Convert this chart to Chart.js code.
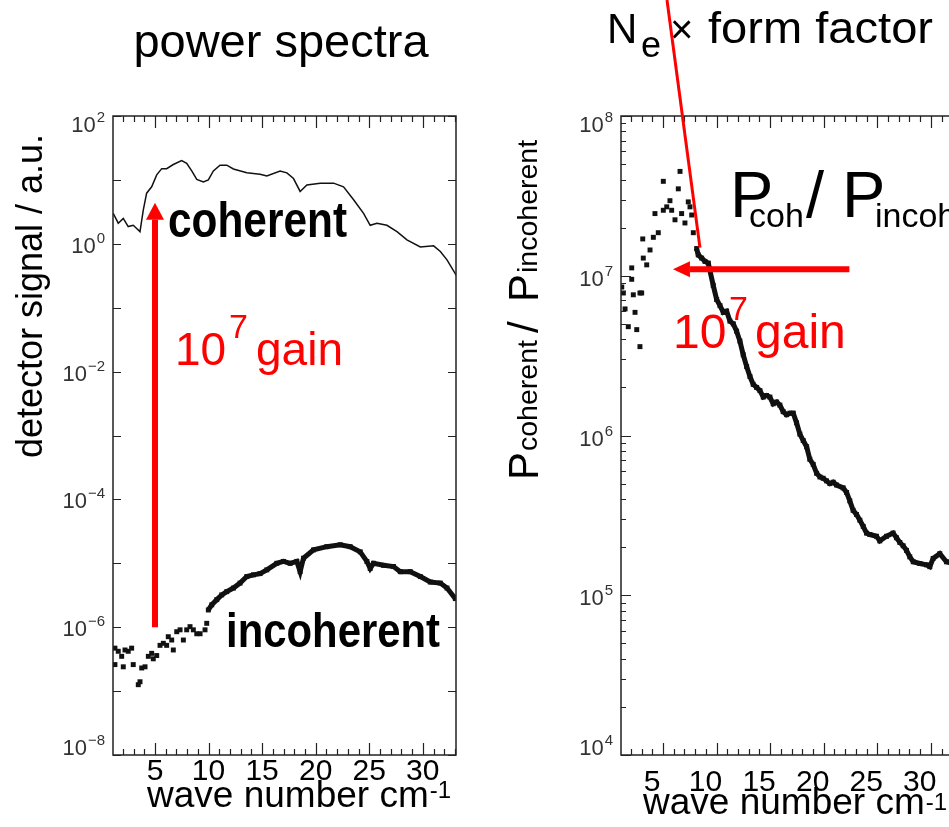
<!DOCTYPE html>
<html>
<head>
<meta charset="utf-8">
<script src="https://cdn.jsdelivr.net/npm/chart.js@4/dist/chart.umd.min.js"></script>
<style>
  html, body { margin: 0; padding: 0; background: #fff; overflow: hidden; }
  #wrap { position: relative; width: 949px; height: 827px; overflow: hidden; background: #fff; }
  canvas { position: absolute; left: 0; top: 0; }
</style>
</head>
<body>
<div id="wrap">
  <canvas id="spec" width="470" height="827"></canvas>
  <canvas id="ratio" width="980" height="827"></canvas>
</div>
<script>
const FONT = '"Liberation Sans", Arial, sans-serif'

// wave number axis (cm^-1)
const xMin = 1.08
const xMax = 33.1
const xTickValues = [5, 10, 15, 20, 25, 30]

// coherent power spectrum (thin trace)
const cohX = [1.1, 1.57, 2.04, 2.5, 2.97, 3.29, 3.6, 3.91, 4.22, 4.69, 5.16, 5.63, 6.09, 6.71, 7.49, 7.96, 8.43, 8.9, 9.52, 9.98,
  10.45, 11.07, 11.7, 12.32, 13.57, 14.81, 15.44, 16.68, 17.31, 17.93, 18.55, 19.18, 20.42, 21.67, 22.6, 23.54, 24.47, 25.09,
  25.72, 26.65, 27.59, 28.52, 29.77, 31.01, 31.64, 32.26, 33.13]
const cohY = [3.0, 2.1, 2.5, 1.86, 1.95, 1.74, 1.55, 3.4, 6.2, 7.8, 12, 15, 15, 17.4, 20, 18.2, 13.8, 10.2, 9.3, 10,
  13.8, 17, 17, 14.8, 12.9, 12.3, 11.5, 13.8, 12.9, 10.5, 6.6, 8.3, 8.9, 8.9, 7.8, 4.9, 3.0, 1.95,
  2.1, 1.95, 1.55, 1.15, 0.89, 0.93, 0.76, 0.56, 0.32]

// incoherent spectrum: scattered points below 10 cm-1
const incLowX = [1.26, 1.26, 1.57, 1.89, 2.04, 2.2, 2.5, 2.82, 2.97, 3.44, 3.6, 3.76, 4.07, 4.38, 4.69, 4.84, 5.16, 5.47,
  5.78, 6.09, 6.24, 6.56, 6.71, 7.03, 7.34, 7.65, 7.96, 8.27, 8.58, 8.9, 9.21, 9.67, 9.83]
const incLowY = [4.7e-7, 2.6e-7, 4.2e-7, 3.5e-7, 2.4e-7, 4.4e-7, 4.2e-7, 4.7e-7, 2.6e-7, 1.26e-7, 1.4e-7, 2.3e-7, 2.4e-7,
  3.5e-7, 3.9e-7, 3.2e-7, 3.6e-7, 5.2e-7, 5.6e-7, 5.2e-7, 7.1e-7, 6.3e-7, 4.4e-7, 8.5e-7, 9.1e-7, 6.3e-7, 9.1e-7,
  1.02e-6, 9.1e-7, 7.9e-7, 7.9e-7, 9.1e-7, 1.15e-6]
// incoherent spectrum: dense part
const incX = [9.98, 10.3, 10.77, 11.23, 11.7, 12.32, 12.94, 13.57, 14.19, 14.81, 15.44, 16.37, 16.99, 17.62, 18.24, 18.55,
  18.86, 19.8, 21.04, 22.29, 23.22, 24.16, 24.78, 25.09, 25.4, 26.34, 27.27, 27.9, 28.83, 29.77, 30.7, 31.64, 32.26, 33.04]
const incY = [1.86e-6, 2.24e-6, 2.7e-6, 3.2e-6, 3.6e-6, 4.1e-6, 4.9e-6, 6.2e-6, 6.6e-6, 6.9e-6, 7.9e-6, 1.0e-5, 1.07e-5,
  1.0e-5, 1.07e-5, 7.4e-6, 1.2e-5, 1.62e-5, 1.82e-5, 1.95e-5, 1.82e-5, 1.51e-5, 1.07e-5, 8.3e-6, 1.0e-5, 9.3e-6, 8.9e-6,
  7.4e-6, 7.4e-6, 6.2e-6, 5.1e-6, 4.9e-6, 4.1e-6, 2.8e-6]

// ratio P_coherent / P_incoherent
const ratioLowX = [1.15, 1.3, 1.46, 1.76, 2.08, 2.08, 2.23, 2.39, 2.55, 2.85, 2.85, 3.01, 3.11, 3.16, 3.48, 3.79, 4.1,
  4.25, 4.56, 5.03, 5.03, 5.35, 5.65, 5.81, 6.12, 6.43, 6.59, 6.74, 7.05, 7.36, 7.52, 7.68, 7.83]
const ratioLowY = [8.5e6, 7.8e6, 6.2e6, 4.8e6, 9.5e6, 1.12e7, 7.6e6, 5.9e6, 4.6e6, 7.8e6, 3.6e6, 7.8e6, 1.7e7, 1.29e7,
  1.17e7, 1.45e7, 1.74e7, 2.45e7, 1.86e7, 3.9e7, 2.57e7, 2.7e7, 2.95e7, 2.57e7, 2.24e7, 3.5e7, 4.5e7, 2.45e7, 2.14e7,
  2.9e7, 2.7e7, 2.4e7, 1.86e7]
const ratioX = [8.14, 8.29, 8.61, 8.92, 9.23, 9.69, 10.01, 10.32, 10.63, 10.94, 11.25, 11.56, 11.87, 12.18, 12.49, 12.81,
  13.12, 13.42, 13.74, 14.05, 14.36, 14.67, 14.98, 15.29, 15.61, 15.91, 16.22, 16.54, 16.85, 17.16, 17.47, 17.78, 18.09,
  18.41, 18.71, 19.02, 19.34, 19.65, 19.95, 20.27, 20.58, 20.89, 21.2, 21.82, 22.14, 22.44, 22.75, 23.07, 23.38, 23.69,
  24.0, 24.31, 24.93, 25.24, 25.87, 26.48, 26.8, 27.11, 27.42, 27.73, 28.04, 28.36, 28.97, 29.6, 29.91, 30.22, 30.84,
  31.46, 32.1, 32.8]
const ratioY = [1.48e7, 1.35e7, 1.29e7, 1.23e7, 1.2e7, 8.7e6, 7.1e6, 6.5e6, 5.9e6, 6.0e6, 5.2e6, 5.0e6, 4.5e6, 3.9e6,
  3.2e6, 2.7e6, 2.34e6, 2.09e6, 2.0e6, 1.91e6, 1.74e6, 1.78e6, 1.74e6, 1.58e6, 1.62e6, 1.55e6, 1.41e6, 1.35e6, 1.38e6,
  1.38e6, 1.2e6, 1.02e6, 9.3e5, 8.5e5, 7.1e5, 6.6e5, 5.8e5, 5.5e5, 5.4e5, 5.2e5, 5.0e5, 5.1e5, 4.9e5, 4.7e5, 4.4e5,
  3.9e5, 3.4e5, 3.2e5, 2.95e5, 2.7e5, 2.45e5, 2.4e5, 2.34e5, 2.19e5, 2.34e5, 2.45e5, 2.29e5, 2.14e5, 2.04e5, 1.91e5,
  1.74e5, 1.62e5, 1.58e5, 1.55e5, 1.51e5, 1.7e5, 1.82e5, 1.62e5, 1.58e5, 1.48e5]

// y decades: ticked, and labelled
const specDecades = [2, 1, 0, -1, -2, -3, -4, -5, -6, -7, -8]
const specLabels = [2, 0, -2, -4, -6, -8]
const ratioDecades = [8, 7, 6, 5, 4]
const ratioLabels = [8, 7, 6, 5, 4]

const pts = (xs, ys) => xs.map((x, i) => ({ x, y: ys[i] }))

const INK = '#111'
const RED = '#ff0000'

function txt(ctx, s, x, y, size, o = {}) {
  ctx.font = `${o.bold ? 'bold ' : ''}${size}px ${FONT}`
  ctx.fillStyle = o.color || '#000'
  ctx.textAlign = o.align || 'left'
  ctx.textBaseline = 'alphabetic'
  const w = ctx.measureText(s).width
  if (o.width) {
    ctx.save()
    ctx.translate(x, y)
    ctx.scale(o.width / w, 1)
    ctx.fillText(s, 0, 0)
    ctx.restore()
    return o.width
  }
  ctx.fillText(s, x, y)
  return w
}

function sup(e) { return String(e).replace('-', '\u2212') }

// box, inward ticks and tick labels
function drawAxes(chart, cfg) {
  const { ctx, chartArea: a, scales: { x, y } } = chart
  ctx.save()
  ctx.strokeStyle = '#222'
  ctx.lineWidth = 1.5
  ctx.strokeRect(a.left, a.top, a.right - a.left, a.bottom - a.top)

  ctx.lineWidth = 1.2
  ctx.beginPath()
  for (let v = 2; v <= 33; v++) {
    const px = Math.round(x.getPixelForValue(v)) + 0.5
    const len = v % 5 === 0 ? 12 : 6
    ctx.moveTo(px, a.bottom); ctx.lineTo(px, a.bottom - len)
    ctx.moveTo(px, a.top); ctx.lineTo(px, a.top + len)
  }
  cfg.decades.forEach(d => {
    const py = Math.round(y.getPixelForValue(10 ** d)) + 0.5
    ctx.moveTo(a.left, py); ctx.lineTo(a.left + cfg.majorLen, py)
    ctx.moveTo(a.right, py); ctx.lineTo(a.right - cfg.majorLen, py)
    if (cfg.minor && d > cfg.decades[cfg.decades.length - 1]) {
      for (let m = 2; m <= 9; m++) {
        const pm = Math.round(y.getPixelForValue(m * 10 ** (d - 1))) + 0.5
        ctx.moveTo(a.left, pm); ctx.lineTo(a.left + 5, pm)
        ctx.moveTo(a.right, pm); ctx.lineTo(a.right - 5, pm)
      }
    }
  })
  ctx.stroke()

  // y tick labels 10^n
  cfg.labels.forEach(d => {
    const py = y.getPixelForValue(10 ** d)
    const base = Math.min(Math.max(py + cfg.labelDrop, a.top + 16), a.bottom)
    ctx.font = `15px ${FONT}`
    const ew = ctx.measureText(sup(d)).width
    const right = a.left - 8
    txt(ctx, sup(d), right - ew, base - 10, 15, { color: '#333' })
    txt(ctx, '10', right - ew - 1, base, 22, { color: '#333', align: 'right' })
  })

  // x tick labels
  xTickValues.forEach(v => {
    txt(ctx, String(v), x.getPixelForValue(v) + cfg.xShift, cfg.xBase, 30, { align: 'center' })
  })
  ctx.restore()
}

function arrow(ctx, x0, y0, x1, y1, w, headLen, headHalf) {
  const ang = Math.atan2(y1 - y0, x1 - x0)
  const bx = x1 - Math.cos(ang) * headLen
  const by = y1 - Math.sin(ang) * headLen
  ctx.save()
  ctx.strokeStyle = RED
  ctx.fillStyle = RED
  ctx.lineWidth = w
  ctx.lineCap = 'butt'
  ctx.beginPath(); ctx.moveTo(x0, y0); ctx.lineTo(bx, by); ctx.stroke()
  ctx.beginPath()
  ctx.moveTo(x1, y1)
  ctx.lineTo(bx + Math.sin(ang) * headHalf, by - Math.cos(ang) * headHalf)
  ctx.lineTo(bx - Math.sin(ang) * headHalf, by + Math.cos(ang) * headHalf)
  ctx.closePath(); ctx.fill()
  ctx.restore()
}

function deco(cfg, extra) {
  return {
    id: 'deco',
    afterDatasetsDraw(chart) {
      drawAxes(chart, cfg)
      extra(chart)
    }
  }
}

function makeChart(id, datasets, yMin, yMax, pad, plugin) {
  return new Chart(document.getElementById(id), {
    type: 'scatter',
    data: { datasets },
    options: {
      responsive: false,
      animation: false,
      events: [],
      layout: { padding: pad },
      plugins: { legend: { display: false }, tooltip: { enabled: false } },
      scales: {
        x: {
          type: 'linear', min: xMin, max: xMax,
          ticks: { display: false }, grid: { display: false }, border: { display: false },
          afterFit: s => { s.height = 0 }
        },
        y: {
          type: 'logarithmic', min: yMin, max: yMax,
          ticks: { display: false }, grid: { display: false }, border: { display: false },
          afterFit: s => { s.width = 0 }
        }
      }
    },
    plugins: [plugin]
  })
}

const markers = { showLine: false, pointStyle: 'rect', pointRadius: 3.5, pointBorderWidth: 0, backgroundColor: INK }
const trace = { showLine: true, borderColor: INK, borderWidth: 5, pointStyle: 'rect', pointRadius: 3.5, pointBorderWidth: 0, backgroundColor: INK }

// left: power spectra
makeChart('spec', [
  { label: 'coherent', data: pts(cohX, cohY), showLine: true, borderColor: INK, borderWidth: 1.5, pointRadius: 0 },
  { label: 'incoherent', data: pts(incLowX, incLowY), ...markers },
  { label: 'incoherent', data: pts(incX, incY), ...trace }
], 1e-8, 1e2, { left: 113, right: 14, top: 116, bottom: 72 },
deco({ decades: specDecades, labels: specLabels, majorLen: 8, minor: false, labelDrop: 9, xShift: 0, xBase: 780 }, chart => {
  const { ctx, scales: { x, y } } = chart
  txt(ctx, 'power spectra', 281, 57, 47, { align: 'center' })

  ctx.save()
  ctx.translate(42, 296)
  ctx.rotate(-Math.PI / 2)
  txt(ctx, 'detector signal / a.u.', 0, 0, 36, { align: 'center' })
  ctx.restore()

  const w = txt(ctx, 'wave number cm', 147, 807, 37)
  txt(ctx, '-1', 147 + w + 1, 798, 24)

  txt(ctx, 'coherent', 168, 237, 50, { bold: true, width: 179 })
  txt(ctx, 'incoherent', 226, 647, 49, { bold: true, width: 214 })

  const ax = x.getPixelForValue(5)
  arrow(ctx, ax, y.getPixelForValue(1e-6), ax, y.getPixelForValue(4.4), 6, 17, 9)
  txt(ctx, '10', 175, 365, 46, { color: RED })
  txt(ctx, '7', 229, 338, 34, { color: RED })
  txt(ctx, 'gain', 256, 365, 46, { color: RED })
}))

// right: ratio of the two spectra
makeChart('ratio', [
  { label: 'ratio', data: pts(ratioLowX, ratioLowY), ...markers },
  { label: 'ratio', data: pts(ratioX, ratioY), ...trace }
], 1e4, 1e8, { left: 621, right: 16, top: 116, bottom: 72 },
deco({ decades: ratioDecades, labels: ratioLabels, majorLen: 10, minor: true, labelDrop: 10, xShift: -11, xBase: 791 }, chart => {
  const { ctx, scales: { x, y } } = chart

  const w = txt(ctx, 'wave number cm', 643, 814, 37)
  txt(ctx, '-1', 643 + w + 1, 810, 24)

  // P_coherent / P_incoherent, rotated
  ctx.save()
  ctx.translate(538, 480)
  ctx.rotate(-Math.PI / 2)
  txt(ctx, 'P', 0, 0, 42)
  txt(ctx, 'coherent', 29, -1, 28.5)
  txt(ctx, '/', 147, 0, 42)
  txt(ctx, 'P', 178, 0, 42)
  txt(ctx, 'incoherent', 207, -1, 28.5)
  ctx.restore()

  // N_e x form factor
  txt(ctx, 'N', 607, 43, 42)
  txt(ctx, 'e', 641, 57, 36)
  txt(ctx, '\u00d7', 670, 43, 40)
  txt(ctx, 'form factor', 708, 43, 45, { width: 225 })

  txt(ctx, 'P', 730, 217, 65)
  txt(ctx, 'coh', 749, 227, 34)
  txt(ctx, '/', 806, 217, 65)
  txt(ctx, 'P', 842, 217, 65)
  txt(ctx, 'incoh', 875, 227, 34)

  // pointer from the title down to the knee of the ratio
  ctx.save()
  ctx.strokeStyle = RED
  ctx.lineWidth = 3
  ctx.beginPath()
  ctx.moveTo(667, 0)
  ctx.lineTo(x.getPixelForValue(8.45), y.getPixelForValue(1.5e7))
  ctx.stroke()
  ctx.restore()

  const ay = y.getPixelForValue(1.1e7)
  arrow(ctx, x.getPixelForValue(22.4), ay, x.getPixelForValue(5.93), ay, 6, 17, 8)
  txt(ctx, '10', 673, 348, 48, { color: RED })
  txt(ctx, '7', 729, 320, 34, { color: RED })
  txt(ctx, 'gain', 755, 348, 48, { color: RED })
}))
</script>
</body>
</html>
